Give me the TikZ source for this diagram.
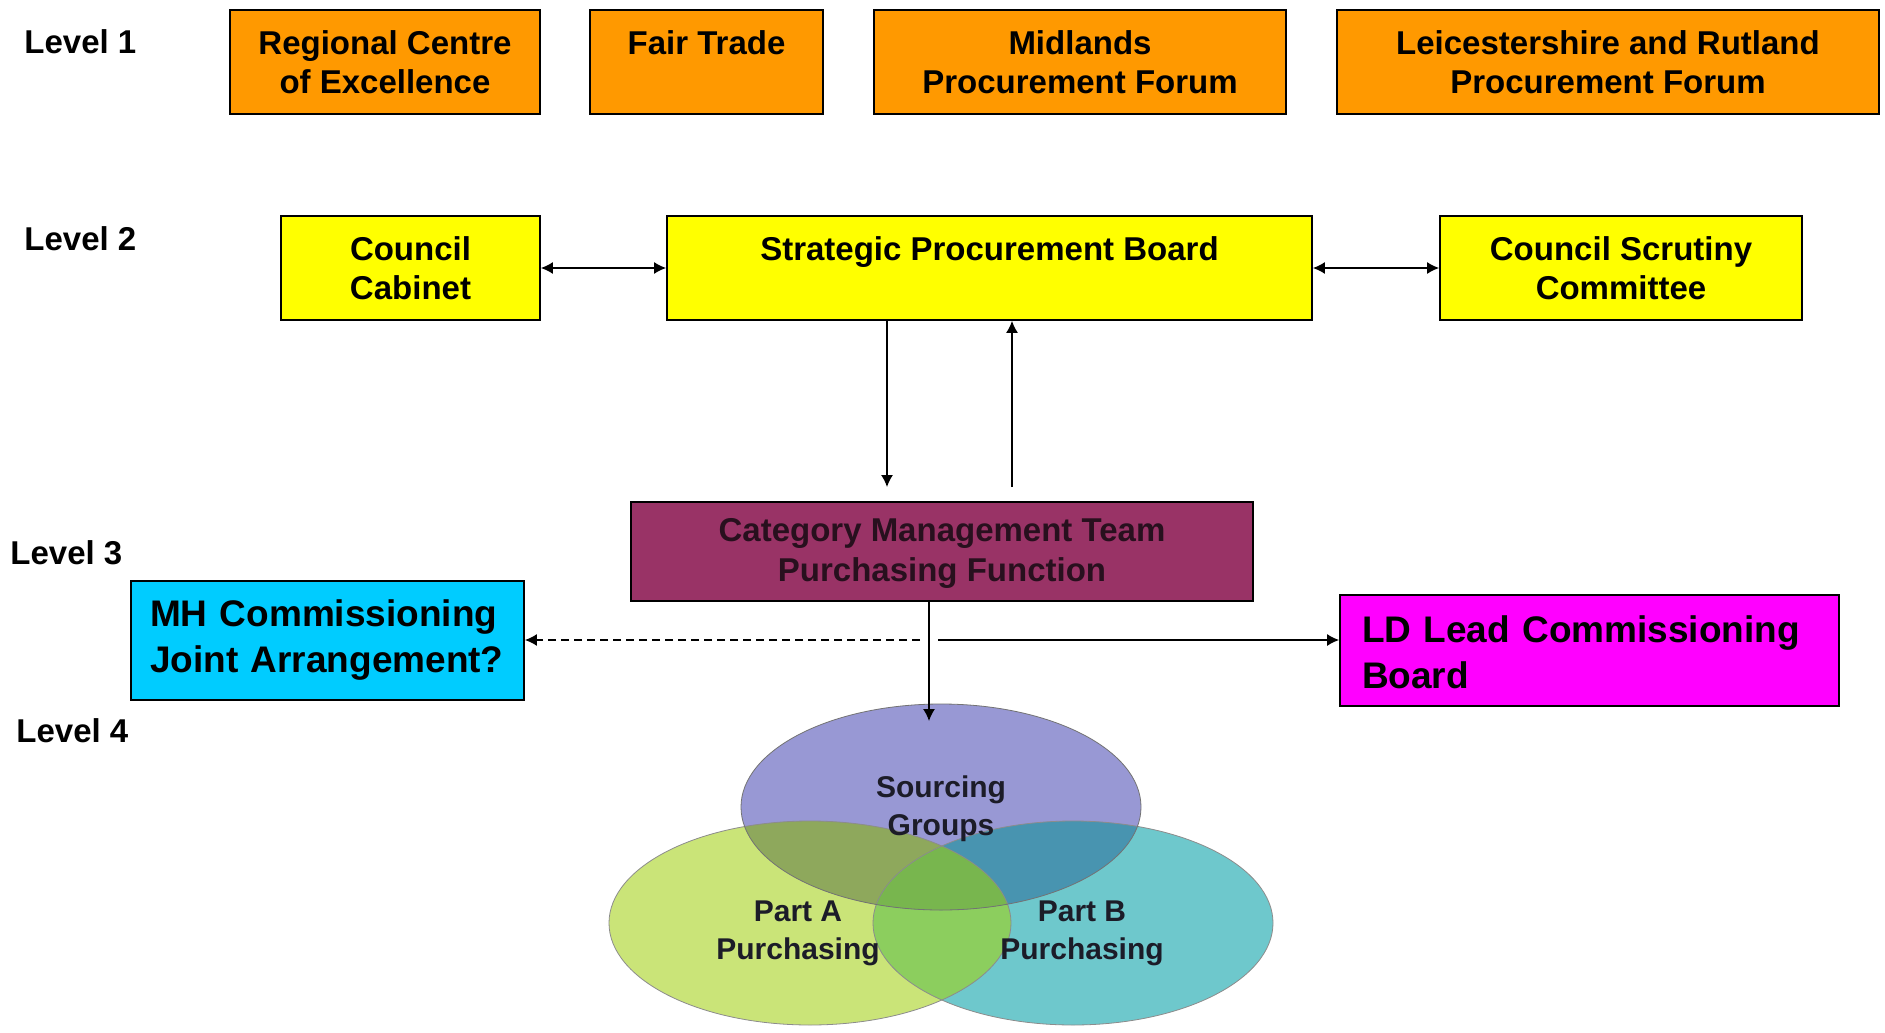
\documentclass[tikz,border=0pt]{standalone}
\usepackage{fontspec}
\setmainfont{Liberation Sans}
\usetikzlibrary{arrows.meta}
\definecolor{orng}{HTML}{FF9900}
\definecolor{yell}{HTML}{FFFF00}
\definecolor{plum}{HTML}{993366}
\definecolor{cyanb}{HTML}{00CCFF}
\definecolor{magb}{HTML}{FF00FF}
\definecolor{cS}{RGB}{152,152,212}
\definecolor{cA}{RGB}{202,228,120}
\definecolor{cB}{RGB}{110,200,204}
\definecolor{cSA}{RGB}{142,168,92}
\definecolor{cSB}{RGB}{72,148,176}
\definecolor{cAB}{RGB}{140,206,94}
\definecolor{cABS}{RGB}{120,182,78}
\definecolor{ctext}{RGB}{40,16,30}
\definecolor{vtext}{RGB}{28,28,40}
\begin{document}
\begin{tikzpicture}[x=0.5pt,y=-0.5pt,
  every node/.style={font=\bfseries},
  lvl/.style={anchor=west,inner sep=0pt,font=\bfseries\fontsize{16.5}{19.25}\selectfont},
  box/.style={draw=black,line width=0.9pt,inner sep=0pt,align=center,
    font=\bfseries\fontsize{16.5}{19.25}\selectfont},
  bigbox/.style={draw=black,line width=0.9pt,inner ysep=0pt,align=left,
    font=\bfseries\fontsize{18.5}{23}\selectfont},
  venntext/.style={align=center,text=vtext,font=\bfseries\fontsize{15}{19}\selectfont},
  tip/.style={-{Latex[length=6pt,width=6pt]},line width=0.7pt},
  dtip/.style={{Latex[length=6pt,width=6pt]}-{Latex[length=6pt,width=6pt]},line width=0.7pt}
]
\useasboundingbox[fill=white] (0,0) rectangle (1885,1033);

% level labels
\node[lvl] (l1) at (24,42) {Level 1};
\node[lvl] (l2) at (24,239) {Level 2};
\node[lvl] (l3) at (10,553) {Level 3};
\node[lvl] (l4) at (16,731) {Level 4};

% level 1
\node[box,fill=orng,minimum width=155pt,minimum height=52pt] (rce) at (385,62) {Regional Centre\\of Excellence};
\node[box,fill=orng,minimum width=116.5pt,minimum height=52pt] (ft) at (706.5,62) {Fair Trade\\\mbox{}};
\node[box,fill=orng,minimum width=206pt,minimum height=52pt] (mpf) at (1080,62) {Midlands\\Procurement Forum};
\node[box,fill=orng,minimum width=271pt,minimum height=52pt] (lrpf) at (1608,62) {Leicestershire and Rutland\\Procurement Forum};

% level 2
\node[box,fill=yell,minimum width=129.5pt,minimum height=52pt] (cc) at (410.5,268) {Council\\Cabinet};
\node[box,fill=yell,minimum width=322.5pt,minimum height=52pt] (spb) at (989.5,268) {Strategic Procurement Board\\\mbox{}};
\node[box,fill=yell,minimum width=181pt,minimum height=52pt] (csc) at (1621,268) {Council Scrutiny\\Committee};

\draw[dtip] (cc.east) -- (spb.west);
\draw[dtip] (spb.east) -- (csc.west);

% level 3
\node[box,fill=plum,text=ctext,minimum width=311pt,minimum height=49.5pt,
  font=\bfseries\fontsize{16.5}{20}\selectfont] (cmt) at (942,551.5) {\raisebox{-1.2pt}[\height][\depth]{\parbox{300pt}{\centering Category Management Team\\Purchasing Function}}};

\coordinate (dnend) at (887,487);
\coordinate (upstart) at (1012,487);
\draw[tip] (spb.south -| dnend) -- (dnend);
\draw[tip] (upstart) -- (spb.south -| upstart);

\node[bigbox,fill=cyanb,inner xsep=9.5pt,text width=177.5pt,minimum height=59.5pt] (mh) at (327.5,640.5) {MH Commissioning\\Joint Arrangement?};
\node[bigbox,fill=magb,inner xsep=11pt,text width=227.5pt,minimum height=55.5pt] (ld) at (1589.5,650.5) {\raisebox{-1pt}[\height][\depth]{\parbox{227.5pt}{LD Lead Commissioning\\Board}}};

% venn
\fill[cA] (810,923) ellipse [x radius=100.5pt,y radius=51pt];
\fill[cB] (1073,923) ellipse [x radius=100pt,y radius=51pt];
\fill[cS] (941,807) ellipse [x radius=100pt,y radius=51.5pt];
\begin{scope}
  \clip (810,923) ellipse [x radius=100.5pt,y radius=51pt];
  \fill[cAB] (1073,923) ellipse [x radius=100pt,y radius=51pt];
  \fill[cSA] (941,807) ellipse [x radius=100pt,y radius=51.5pt];
\end{scope}
\begin{scope}
  \clip (1073,923) ellipse [x radius=100pt,y radius=51pt];
  \fill[cSB] (941,807) ellipse [x radius=100pt,y radius=51.5pt];
\end{scope}
\begin{scope}
  \clip (810,923) ellipse [x radius=100.5pt,y radius=51pt];
  \clip (1073,923) ellipse [x radius=100pt,y radius=51pt];
  \fill[cABS] (941,807) ellipse [x radius=100pt,y radius=51.5pt];
\end{scope}
\draw[black!45,line width=0.4pt] (810,923) ellipse [x radius=100.5pt,y radius=51pt];
\draw[black!45,line width=0.4pt] (1073,923) ellipse [x radius=100pt,y radius=51pt];
\draw[black!55,line width=0.4pt] (941,807) ellipse [x radius=100pt,y radius=51.5pt];

\node[venntext] (sg) at (941,809) {Sourcing\\Groups};
\node[venntext] (pa) at (798,933) {Part A\\Purchasing};
\node[venntext] (pb) at (1082,933) {Part B\\Purchasing};

% connectors from level 3
\coordinate (sgtop) at (929,721);
\coordinate (dashstart) at (920,640);
\coordinate (solidstart) at (938,640);
\draw[tip] (cmt.south -| sgtop) -- (sgtop);
\draw[tip,dash pattern=on 4pt off 2.5pt] (dashstart) -- (dashstart -| mh.east);
\draw[tip] (solidstart) -- (solidstart -| ld.west);
\end{tikzpicture}
\end{document}
